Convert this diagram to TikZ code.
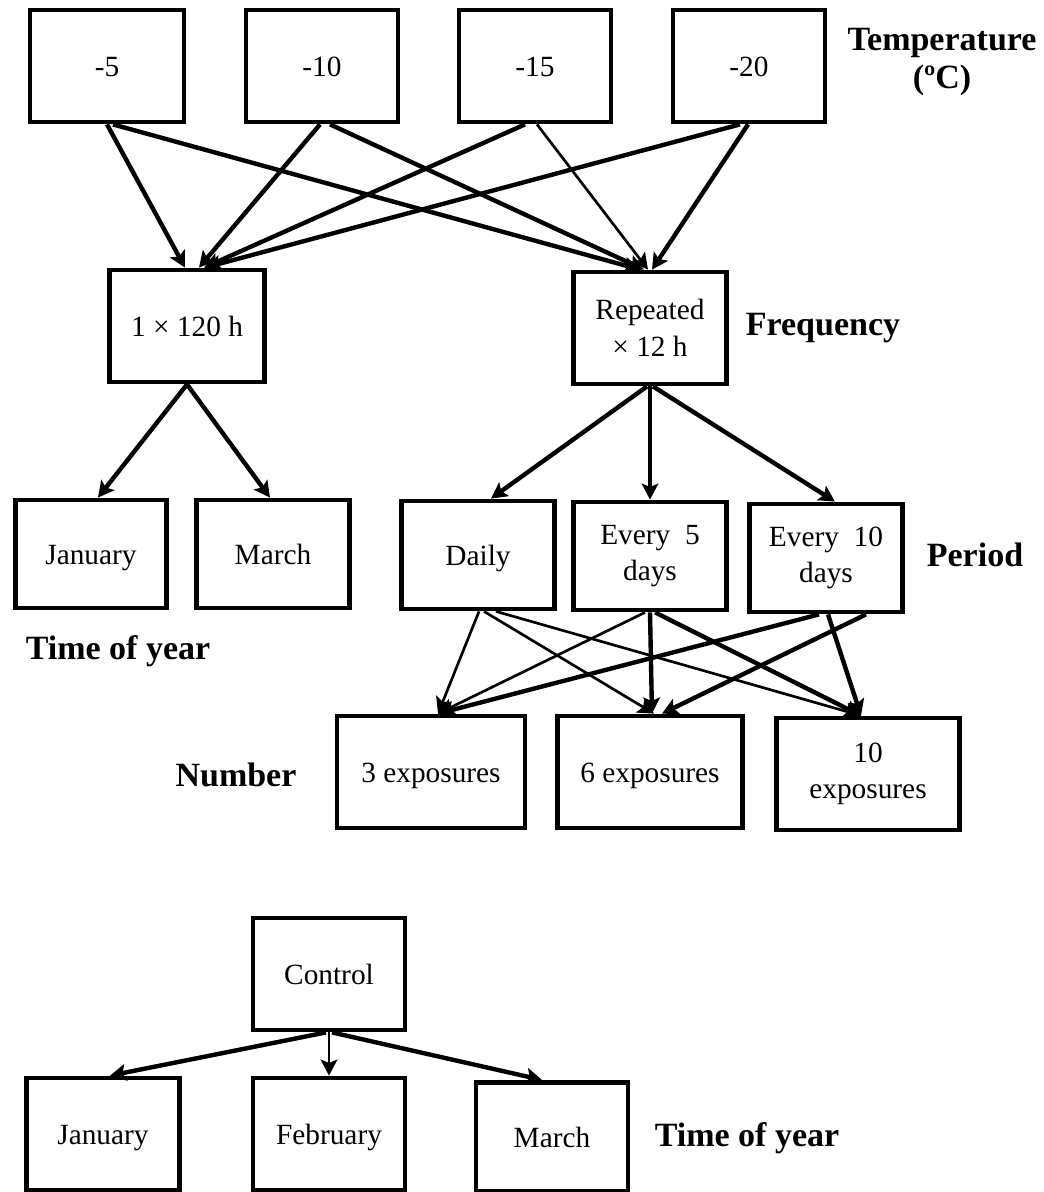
\documentclass[tikz,border=0pt]{standalone}
\usepackage{fontspec}
\setmainfont{Liberation Serif}
\usetikzlibrary{arrows.meta,calc}

\begin{document}
\begin{tikzpicture}[x=0.75pt,y=0.75pt,yscale=-1,xscale=1,
  box/.style={draw,line width=3.6pt,minimum width=#1*0.75pt,minimum height=84pt,inner sep=0pt,align=center,font=\fontsize{22}{27.5}\selectfont},
  box/.default=152,
  one/.style={text height=19pt,text depth=3pt},
  low/.style={minimum height=81pt},
  lbl/.style={align=center,font=\fontsize{25.5}{28}\selectfont\bfseries},
  arr/.style={line width=3.3pt,-{Stealth[length=12pt,width=12.5pt,inset=2.5pt]}},
  thin/.style={arr,line width=2pt}]
\useasboundingbox (0,0) rectangle (1044,1192);

%Shape: Rectangle (temperature)
\node[box=154,one] (t5) at (107,66) {-5};
\node[box,one] (t10) at (322,66) {-10};
\node[box,one] (t15) at (535,66) {-15};
\node[box,one] (t20) at (749,66) {-20};
% Text Node
\node[lbl] (temp) at (942,62) {Temperature\\(ºC)};

%Shape: Rectangle (frequency)
\node[box=155,one] (f1) at (187,326) {1 × 120 h};
\node[box=153] (f2) at (650,328) {Repeated\\× 12 h};
% Text Node
\node[lbl] (freq) at (823,328) {Frequency};

%Shape: Rectangle (period / time of year)
\node[box=151,low,one] (p1) at (91,554) {January};
\node[box=153,low,one] (p2) at (273,554) {March};
\node[box=153,low,one] (p3) at (478,555) {Daily};
\node[box=153,low] (p4) at (650,556) {Every~~5\\days};
\node[box=153,low] (p5) at (826,558) {Every~~10\\days};
% Text Node
\node[lbl] (per) at (975,555) {Period};
\node[lbl] (toy) at (118,651) {Time of year};

%Shape: Rectangle (number)
\node[box=188,one] (n1) at (431,772) {3 exposures};
\node[box=185,one] (n2) at (650,772) {6 exposures};
\node[box=183] (n3) at (868,774) {10\\exposures};
% Text Node
\node[lbl] (num) at (236,775) {Number};

%Shape: Rectangle (control)
\node[box,one] (c) at (329,974) {Control};
\node[box=153,one] (cj) at (103,1134) {January};
\node[box,one] (cf) at (329,1134) {February};
\node[box,one,minimum height=82pt] (cm) at (552,1137) {March};
% Text Node
\node[lbl] (toy2) at (747,1138) {Time of year};

%Straight Lines (temperature -> frequency)
\draw[arr] (t5.south) -- ($(f1.north)+(-2,0)$);
\draw[arr] ($(t5.south)+(6,0)$) -- ($(f2.north)+(-10,0)$);
\draw[arr] ($(t10.south)+(-2,0)$) -- ($(f1.north)+(12,0)$);
\draw[arr] ($(t10.south)+(8,0)$) -- ($(f2.north)+(-6,0)$);
\draw[arr] ($(t15.south)+(-10,0)$) -- ($(f1.north)+(17,0)$);
\draw[thin] ($(t15.south)+(2,0)$) -- ($(f2.north)+(-2,0)$);
\draw[arr] ($(t20.south)+(-9,0)$) -- ($(f1.north)+(18,0)$);
\draw[arr] ($(t20.south)+(-1,0)$) -- ($(f2.north)+(2,0)$);

%Straight Lines (frequency -> period)
\draw[arr] (f1.south) -- ($(p1.north)+(7,0)$);
\draw[arr] (f1.south) -- ($(p2.north)+(-3,0)$);
\draw[arr] ($(f2.south)+(-3,0)$) -- ($(p3.north)+(13,0)$);
\draw[arr] (f2.south) -- (p4.north);
\draw[arr] ($(f2.south)+(3,0)$) -- ($(p5.north)+(9,0)$);

%Straight Lines (period -> number)
\draw[thin] ($(p3.south)+(1,0)$) -- ($(n1.north)+(7,0)$);
\draw[thin] ($(p3.south)+(6,0)$) -- ($(n2.north)+(4,0)$);
\draw[thin] ($(p3.south)+(18,0)$) -- ($(n3.north)+(-7,0)$);
\draw[thin] ($(p4.south)+(-5,0)$) -- ($(n1.north)+(7,0)$);
\draw[arr] (p4.south) -- ($(n2.north)+(2,0)$);
\draw[arr] ($(p4.south)+(5,0)$) -- ($(n3.north)+(-7,0)$);
\draw[arr] ($(p5.south)+(-7,0)$) -- ($(n1.north)+(7,0)$);
\draw[arr] ($(p5.south)+(40,0)$) -- ($(n2.north)+(12,0)$);
\draw[arr] ($(p5.south)+(2,0)$) -- ($(n3.north)+(-7,0)$);

%Straight Lines (control -> time of year)
\draw[arr] ($(c.south)+(-3,0)$) -- ($(cj.north)+(7,0)$);
\draw[thin] (c.south) -- (cf.north);
\draw[arr] ($(c.south)+(3,0)$) -- ($(cm.north)+(-10,0)$);

\end{tikzpicture}
\end{document}
